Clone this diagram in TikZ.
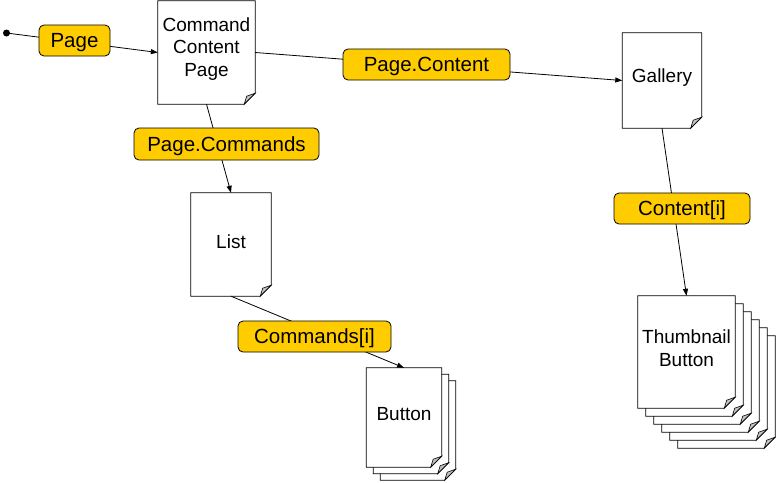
\documentclass[tikz,border=0pt]{standalone}
\usepackage{fontspec}
\setmainfont{Liberation Sans}
\usetikzlibrary{arrows.meta,calc,backgrounds}
\definecolor{gold}{HTML}{FFCC00}
\definecolor{foldgray}{HTML}{C0C0C0}
\tikzset{
  docline/.style={draw=black,fill=white,line width=0.8pt,line join=miter},
  foldfill/.style={draw=black,fill=foldgray,line width=0.6pt},
  docbox/.style={rectangle,draw=none,inner sep=0pt},
  doctext/.style={align=center,font=\fontsize{19}{22.5}\selectfont,inner sep=0pt},
  tag/.style={rectangle,rounded corners=5pt,draw=black,fill=gold,line width=0.8pt,
    inner sep=0pt,minimum height=31pt,text height=14.7pt,text depth=0pt,
    font=\fontsize{20.5}{24}\selectfont},
  conn/.style={line width=0.8pt,-{Triangle[length=7pt,width=5pt]}}
}
\newcommand\docsheet[3]{%
  \path ($(#1.north west)+(#2,#3)$) coordinate (p1)
        ($(#1.north east)+(#2,#3)$) coordinate (p2)
        ($(#1.south east)+(#2,#3)$) coordinate (p3)
        ($(#1.south west)+(#2,#3)$) coordinate (p4);
  \path[docline] (p1) -- (p2) -- ($(p3)+(0,-11)$) -- ($(p3)+(-11,0)$) -- (p4) -- cycle;
  \path[foldfill] ($(p3)+(0,-11)$) -- ($(p3)+(-11,0)$) -- ($(p3)+(-8.5,-8)$) -- cycle;
}
\begin{document}
\begin{tikzpicture}[x=1pt,y=-1pt]
\useasboundingbox (0,0) rectangle (776,482);
% document nodes
\node[docbox,minimum width=97pt,minimum height=103pt] (cmd) at (206.5,52.5) {};
\node[docbox,minimum width=79pt,minimum height=95pt] (gallery) at (662,80.5) {};
\node[docbox,minimum width=80pt,minimum height=103pt] (list) at (231,244.5) {};
\node[docbox,minimum width=75pt,minimum height=99pt] (button) at (404,417.5) {};
\node[docbox,minimum width=97pt,minimum height=112pt] (thumb) at (686.5,352) {};
% texts
\node[doctext] (cmdtext) at ($(cmd.center)+(0,-3.5)$) {Command\\Content\\Page};
\node[doctext] (gallerytext) at ($(gallery.center)+(0,-3)$) {Gallery};
\node[doctext] (listtext) at ($(list.center)+(0,-3)$) {List};
\node[doctext] (buttontext) at ($(button.center)+(0,-3)$) {Button};
\node[doctext] (thumbtext) at ($(thumb.center)+(0,-4)$) {Thumbnail\\Button};
% shapes
\begin{scope}[on background layer]
  \docsheet{cmd}{0}{0}
  \docsheet{gallery}{0}{0}
  \docsheet{list}{0}{0}
  \docsheet{button}{14}{13}
  \docsheet{button}{7}{6.5}
  \docsheet{button}{0}{0}
  \docsheet{thumb}{40}{40}
  \docsheet{thumb}{32}{32}
  \docsheet{thumb}{24}{24}
  \docsheet{thumb}{16}{16}
  \docsheet{thumb}{8}{8}
  \docsheet{thumb}{0}{0}
\end{scope}
% start dot
\node[circle,fill=black,inner sep=0pt,minimum size=7pt] (start) at (6.5,33) {};
% connectors
\draw[conn] (start.center) -- (cmd.west);
\draw[conn] (cmd.east) -- (gallery.west);
\draw[conn] (cmd.south) -- (list.north);
\draw[conn] (list.south) -- (button.north);
\draw[conn] (gallery.south) -- (thumb.north);
% labels
\node[tag,minimum width=71pt] (lpage) at (74.5,40.5) {Page};
\node[tag,minimum width=167pt] (lcontent) at (426.5,64.5) {Page.Content};
\node[tag,minimum width=185pt,minimum height=32pt] (lcommands) at (226.5,144) {Page.Commands};
\node[tag,minimum width=136pt] (lcontenti) at (682,208.5) {Content[i]};
\node[tag,minimum width=153pt] (lcommandsi) at (314.5,336.5) {Commands[i]};
\end{tikzpicture}
\end{document}
